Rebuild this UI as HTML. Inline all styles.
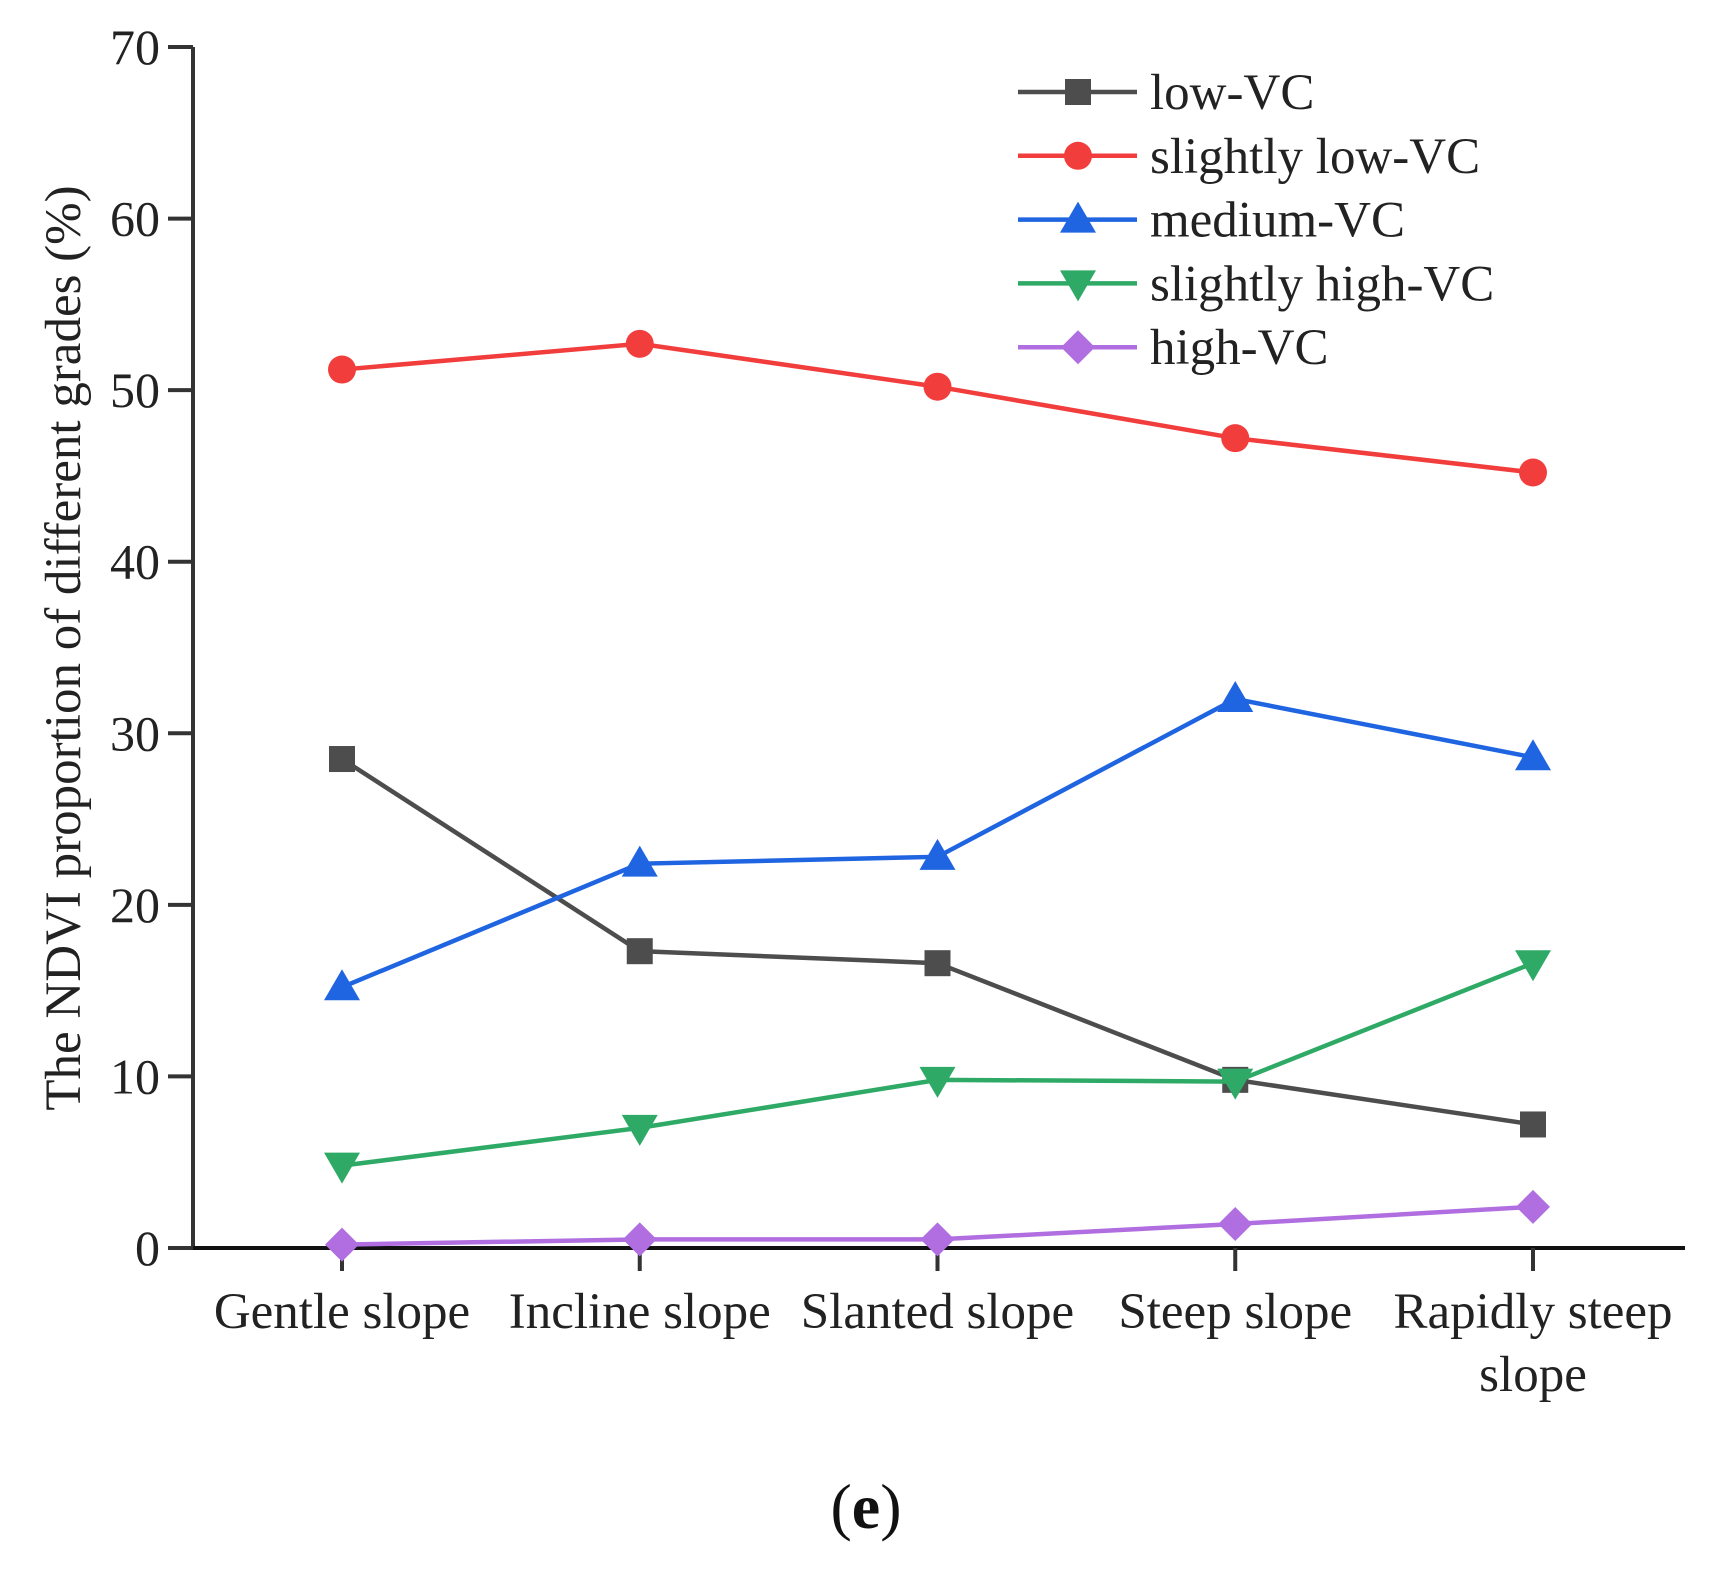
<!DOCTYPE html>
<html><head><meta charset="utf-8">
<style>
html,body{margin:0;padding:0;background:#fff;}
svg{display:block;}
svg text{font-family:"Liberation Serif","Times New Roman",serif;}
</style></head>
<body>
<svg id="chart" width="1723" height="1577" viewBox="0 0 1723 1577" xmlns="http://www.w3.org/2000/svg" font-family="Liberation Serif, serif">
<g id="axes"></g>
<g id="series"></g>
<g id="legend"></g>
<text x="0" y="0" transform="translate(80,648) rotate(-90)" text-anchor="middle" font-size="51" fill="#222" font-family="Liberation Serif, serif">The NDVI proportion of different grades (%)</text>
<text x="866" y="1528" text-anchor="middle" font-size="64" fill="#111" font-family="Liberation Serif, serif"><tspan>(</tspan><tspan font-weight="bold">e</tspan><tspan>)</tspan></text>
</svg>
<script>
const categories = [["Gentle slope"],["Incline slope"],["Slanted slope"],["Steep slope"],["Rapidly steep","slope"]];
const yTicks = [0,10,20,30,40,50,60,70];
const seriesNames = ["low-VC","slightly low-VC","medium-VC","slightly high-VC","high-VC"];
const lowVC = [28.5,17.3,16.6,9.8,7.2];
const slightlyLowVC = [51.2,52.7,50.2,47.2,45.2];
const mediumVC = [15.2,22.4,22.8,32.0,28.6];
const slightlyHighVC = [4.8,7.0,9.8,9.7,16.6];
const highVC = [0.2,0.5,0.5,1.4,2.4];

const NS="http://www.w3.org/2000/svg";
const FONT="Liberation Serif, serif";
const x0=193, y0=1248, yTop=47, xEnd=1685, firstX=342, lastX=1533;
function xScale(i){return firstX+(lastX-firstX)*i/(categories.length-1);}
function yScale(v){return y0-(y0-yTop)*v/70;}
function mk(tag,attrs,parent){const e=document.createElementNS(NS,tag);for(const k in attrs)e.setAttribute(k,attrs[k]);parent.appendChild(e);return e;}

const axes=document.getElementById('axes');
let yl=mk('line',{x1:x0,y1:yTop,x2:x0,y2:y0,stroke:'#333','stroke-width':4},axes);


let xl=mk('line',{x1:x0-25,y1:y0,x2:xEnd,y2:y0,stroke:'#111','stroke-width':4},axes);


yTicks.forEach(t=>{
  const y=yScale(t);
  const tl=mk('line',{x1:x0-25,y1:y,x2:x0,y2:y,stroke:'#333','stroke-width':4},axes);
  
  
  const tx=mk('text',{x:160,y:y+17,'text-anchor':'end','font-size':50,fill:'#222','font-family':FONT},axes);
  tx.textContent=t;
  
  
});
categories.forEach((c,i)=>{
  const x=xScale(i);
  const tl=mk('line',{x1:x,y1:y0,x2:x,y2:y0+23,stroke:'#333','stroke-width':4},axes);
  
  
  c.forEach((ln,j)=>{
    const tx=mk('text',{x:x,y:1328+j*63,'text-anchor':'middle','font-size':51,fill:'#222','font-family':FONT},axes);
    tx.textContent=ln;
    
    
  });
});

const colors=["#4d4d4d","#f23d3d","#1f64e0","#2eaa66","#b06ee0"];
const markers=["square","circle","triangle-up","triangle-down","diamond"];
const allData=[lowVC,slightlyLowVC,mediumVC,slightlyHighVC,highVC];
function marker(type,x,y,color,parent){
  let e;
  if(type==='square') e=mk('rect',{x:x-13,y:y-13,width:26,height:26,fill:color},parent);
  else if(type==='circle') e=mk('circle',{cx:x,cy:y,r:14,fill:color},parent);
  else if(type==='triangle-up') e=mk('polygon',{points:`${x},${y-18} ${x-18},${y+13} ${x+18},${y+13}`,fill:color},parent);
  else if(type==='triangle-down') e=mk('polygon',{points:`${x},${y+18} ${x-18},${y-13} ${x+18},${y-13}`,fill:color},parent);
  else e=mk('polygon',{points:`${x},${y-17} ${x+17},${y} ${x},${y+17} ${x-17},${y}`,fill:color},parent);
  return e;
}
const sg=document.getElementById('series');
allData.forEach((d,s)=>{
  const g=mk('g',{},sg);
  
  
  const pts=d.map((v,i)=>xScale(i)+','+yScale(v)).join(' ');
  const pl=mk('polyline',{points:pts,fill:'none',stroke:colors[s],'stroke-width':4.5},g);
  
  
  d.forEach((v,i)=>{
    const m=marker(markers[s],xScale(i),yScale(v),colors[s],g);
    
    
  });
});

const lg=document.getElementById('legend');
seriesNames.forEach((n,s)=>{
  const y=92+s*63.8;
  const g=mk('g',{},lg);
  
  
  mk('line',{x1:1018,y1:y,x2:1137,y2:y,stroke:colors[s],'stroke-width':4.5},g);
  marker(markers[s],1078,y,colors[s],g);
  const tx=mk('text',{x:1150,y:y+17,'font-size':51,fill:'#222','font-family':FONT},g);
  tx.textContent=n;
  
  
});
</script>
</body></html>
